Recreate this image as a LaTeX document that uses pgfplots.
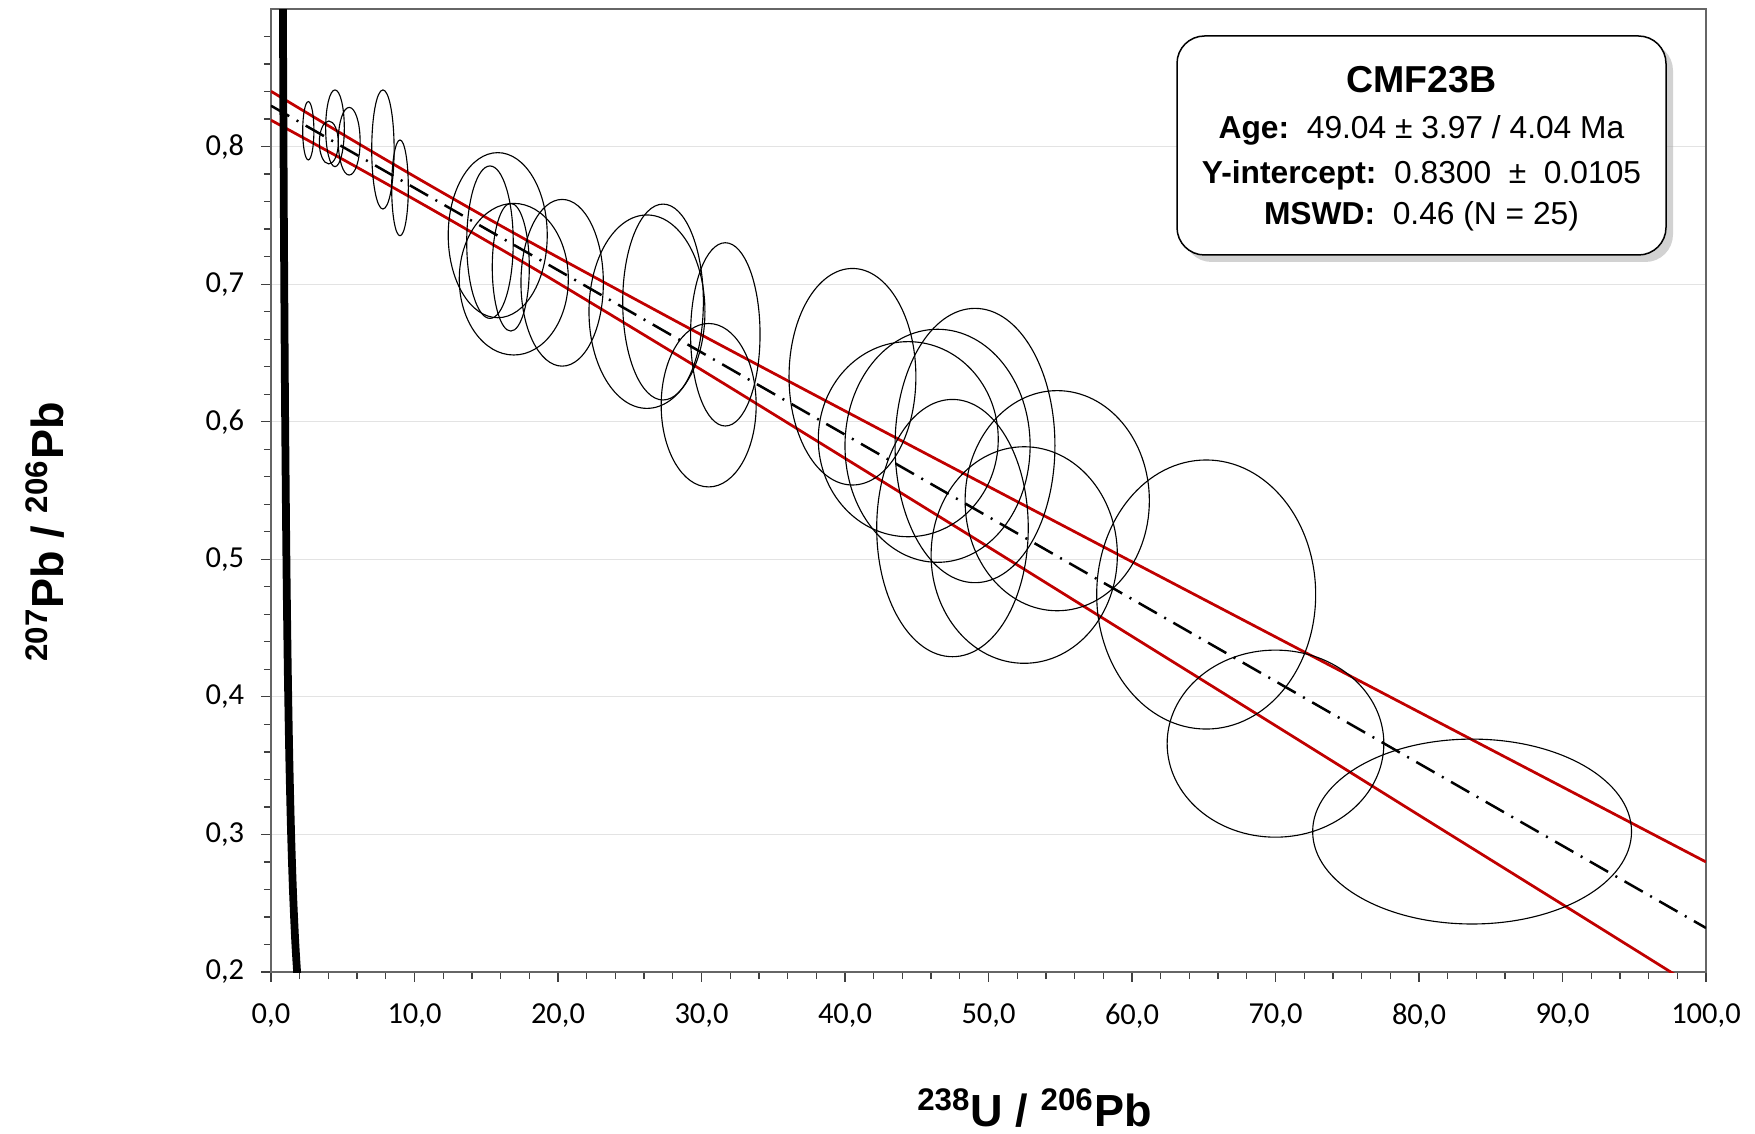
\documentclass[border=0pt]{standalone}
\usepackage{pgfplots}
\pgfplotsset{compat=1.18}
\usepackage{pgfplotstable}
\usepackage{fontspec}
\setmainfont{Carlito}
\newfontfamily\arial{Liberation Sans}
\usetikzlibrary{shadows}
\definecolor{envred}{RGB}{192,0,0}

% error ellipse as a plot mark, radii in axis units (x: 5.74pt/unit, y: 550.2857pt/unit)
\pgfdeclareplotmark{ell}{%
  \pgfpathellipse{\pgfpointorigin}{\pgfpoint{5.74*\erx}{0pt}}{\pgfpoint{0pt}{550.2857*\ery}}%
  \pgfusepathqstroke}

\newcommand{\sups}[1]{\textsuperscript{\fontsize{12.5}{14}\selectfont #1}}

% centre, half-axes of the 2 sigma ellipses
\pgfplotstableread{
x      y       rx     ry
2.60   0.8115  0.39   0.0212
4.46   0.8133  0.65   0.0279
4.03   0.8030  0.66   0.0156
5.45   0.8039  0.76   0.0246
7.80   0.7979  0.78   0.0433
8.99   0.7700  0.58   0.0348
15.80  0.7356  3.45   0.0600
15.26  0.7305  1.62   0.0554
16.92  0.7036  3.80   0.0551
16.71  0.7123  1.29   0.0464
20.29  0.7010  2.87   0.0606
26.20  0.6800  4.04   0.0703
27.32  0.6870  2.81   0.0712
31.66  0.6635  2.42   0.0666
30.50  0.6120  3.31   0.0594
40.52  0.6327  4.42   0.0787
44.41  0.5873  6.27   0.0709
46.45  0.5825  6.45   0.0847
49.06  0.5827  5.57   0.0997
47.49  0.5227  5.28   0.0935
52.49  0.5031  6.49   0.0787
54.79  0.5426  6.42   0.0800
65.17  0.4744  7.63   0.0978
70.00  0.3660  7.55   0.0680
83.70  0.3021  11.11  0.0672
}\ellipses

\begin{document}
\begin{tikzpicture}
\begin{axis}[
    scale only axis,
    width=574pt, height=385.2pt,
    at={(0,0)}, anchor=south west,
    xmin=0, xmax=100, ymin=0.2, ymax=0.9,
    xtick={0,10,...,100},
    minor xtick={0,2,...,100},
    ytick={0.2,0.3,0.4,0.5,0.6,0.7,0.8},
    minor ytick={0.22,0.24,0.26,0.28,0.32,0.34,0.36,0.38,0.42,0.44,0.46,0.48,
                 0.52,0.54,0.56,0.58,0.62,0.64,0.66,0.68,0.72,0.74,0.76,0.78,
                 0.82,0.84,0.86,0.88},
    xtick pos=bottom, ytick pos=left,
    tick align=outside,
    major tick length=3.8pt, minor tick length=2.85pt,
    tick style={black!75, line width=0.5pt},
    axis line style={black!60, line width=0.6pt},
    ymajorgrids,
    major grid style={gray!22, line width=0.5pt},
    /pgf/number format/assume math mode=true,
    tick label style={font=\fontsize{12.2}{15}\selectfont},
    xticklabel style={yshift=-5.5pt, /pgf/number format/.cd, fixed, fixed zerofill, precision=1, use comma},
    yticklabel style={xshift=-3.4pt, /pgf/number format/.cd, fixed, fixed zerofill, precision=1, use comma},
    xlabel={\arial\bfseries\fontsize{18}{20}\selectfont\sups{238}U / \sups{206}Pb},
    ylabel={\arial\bfseries\fontsize{18}{20}\selectfont\sups{207}Pb / \sups{206}Pb},
    xlabel style={at={(axis description cs:0.532,-0.141)}, anchor=center},
    ylabel style={at={(axis description cs:-0.1575,0.457)}, anchor=center},
]
% error ellipses
\addplot[only marks, mark=ell, mark options={black, line width=0.45pt},
    visualization depends on={\thisrow{rx} \as \erx},
    visualization depends on={\thisrow{ry} \as \ery}]
    table[x=x, y=y] {\ellipses};

% error envelope
\addplot[envred, line width=1.1pt, smooth] coordinates {
    (0,0.8402) (5,0.8089) (10,0.7783) (15,0.7484) (20,0.7195) (30,0.6631)
    (40,0.6078) (50,0.5529) (60,0.4982) (70,0.4436) (80,0.3890) (90,0.3345) (100,0.2800)
};
\addplot[envred, line width=1.1pt, smooth] coordinates {
    (0,0.8192) (5,0.7907) (10,0.7615) (15,0.7316) (20,0.7009) (30,0.6377)
    (40,0.5734) (50,0.5089) (60,0.4440) (70,0.3791) (80,0.3140) (90,0.2491) (100,0.1840)
};

% regression line
\addplot[black, line width=1pt, dash pattern=on 8.4pt off 3.4pt on 0.8pt off 3.4pt]
    coordinates {(0,0.8297) (100,0.2320)};

% concordia
\addplot[black, line width=3.1pt, smooth] coordinates {
    (0.8294,0.9070) (0.8411,0.8754) (0.8530,0.8450) (0.8784,0.7880) (0.9045,0.7347)
    (0.9603,0.6393) (0.9900,0.5967) (1.0712,0.5029) (1.1630,0.4248) (1.2674,0.3601)
    (1.3870,0.3058) (1.5254,0.2605) (1.6870,0.2226) (1.8380,0.1968)
};
\end{axis}

% result box
\draw[black, line width=0.6pt, fill=white, rounded corners=11pt,
      drop shadow={shadow xshift=2.8pt, shadow yshift=-2.8pt, fill=black!35, opacity=0.5}]
    (362.4pt,286.8pt) rectangle (558pt,374.4pt);
\node[anchor=base, font={\arial\bfseries\fontsize{15}{18}\selectfont}] at (460.2pt,351.6pt) {CMF23B};
\node[anchor=base, font={\arial\fontsize{12.7}{15}\selectfont}] at (460.2pt,333.2pt)
    {\textbf{Age:}\ \ 49.04 ± 3.97 / 4.04 Ma};
\node[anchor=base, font={\arial\fontsize{12.7}{15}\selectfont}] at (460.2pt,315.5pt)
    {\textbf{Y-intercept:}\ \ 0.8300\ \ ±\ \ 0.0105};
\node[anchor=base, font={\arial\fontsize{12.7}{15}\selectfont}] at (460.2pt,298.8pt)
    {\textbf{MSWD:}\ \ 0.46 (N = 25)};

\pgfresetboundingbox
\useasboundingbox (-108.4pt,-64.4pt) rectangle (593.6pt,388.8pt);
\end{tikzpicture}
\end{document}
